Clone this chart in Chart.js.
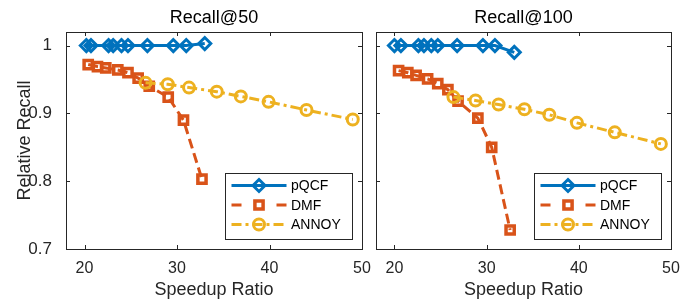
<!DOCTYPE html>
<html lang="en">
<head>
  <meta charset="UTF-8">
  <title>Relative Recall vs Speedup Ratio</title>
  <script src="https://cdn.jsdelivr.net/npm/chart.js"></script>
  <style>
    body { margin: 0; background: #fff; }
    #wrap { position: relative; width: 697px; height: 301px; }
    canvas { position: absolute; left: 0; top: 0; }
  </style>
</head>
<body>
  <div id="wrap">
    <canvas id="left" width="697" height="301"></canvas>
    <canvas id="right" width="697" height="301"></canvas>
  </div>
  <script>
    // --- data ---
    const xTicks = [20, 30, 40, 50];
    const yTicks = [0.7, 0.8, 0.9, 1];
    const seriesNames = ["pQCF", "DMF", "ANNOY"];

    // Recall@50
    const pqcfX50 = [20.2, 20.7, 22.6, 23.1, 24.0, 24.7, 26.8, 29.6, 31.0, 33.0];
    const pqcfY50 = [1, 1, 1, 1, 1, 1, 1, 1, 1, 1.003];
    const dmfX50 = [20.4, 21.4, 22.3, 23.6, 24.7, 25.8, 27.0, 29.05, 30.7, 32.7];
    const dmfY50 = [0.972, 0.969, 0.967, 0.964, 0.960, 0.952, 0.940, 0.924, 0.890, 0.803];
    const annoyX50 = [26.6, 29.0, 31.3, 34.3, 36.9, 39.9, 44.0, 49.0];
    const annoyY50 = [0.945, 0.943, 0.938, 0.932, 0.925, 0.917, 0.905, 0.891];

    // Recall@100
    const pqcfX100 = [20.0, 20.7, 22.6, 23.2, 24.0, 24.7, 26.8, 29.6, 30.9, 33.0];
    const pqcfY100 = [1, 1, 1, 1, 1, 1, 1, 1, 1, 0.99];
    const dmfX100 = [20.45, 21.45, 22.35, 23.6, 24.7, 25.8, 26.9, 29.05, 30.55, 32.55];
    const dmfY100 = [0.963, 0.960, 0.956, 0.951, 0.944, 0.935, 0.918, 0.893, 0.850, 0.728];
    const annoyX100 = [26.4, 28.8, 31.3, 34.1, 36.8, 39.8, 43.9, 48.9];
    const annoyY100 = [0.924, 0.919, 0.913, 0.906, 0.898, 0.886, 0.872, 0.855];

    const FONT = "'Liberation Sans', Arial, sans-serif";
    const AXIS = "#262626";
    const colors = ["#0072BD", "#D95319", "#EDB120"];

    const toPoints = (xs, ys) => xs.map((x, i) => ({ x: x, y: ys[i] }));

    // draws marker shapes (used for the legend)
    const drawMarker = (ctx, style, r, x, y) => {
      ctx.beginPath();
      if (style === "rectRot") {
        ctx.moveTo(x, y - r); ctx.lineTo(x + r, y); ctx.lineTo(x, y + r); ctx.lineTo(x - r, y);
        ctx.closePath();
      } else if (style === "rect") {
        const s = r * Math.SQRT1_2;
        ctx.rect(x - s, y - s, 2 * s, 2 * s);
      } else {
        ctx.arc(x, y, r, 0, Math.PI * 2);
      }
      ctx.stroke();
    };

    // box, inward ticks, title and legend in MATLAB style
    const matlabStyle = {
      id: "matlabStyle",
      beforeDatasetsDraw(chart) {
        const { ctx, chartArea: a, scales } = chart;
        ctx.save();
        ctx.strokeStyle = AXIS;
        ctx.lineWidth = 1;
        ctx.strokeRect(Math.round(a.left) + 0.5, Math.round(a.top) + 0.5,
          Math.round(a.right - a.left), Math.round(a.bottom - a.top));
        const tl = 4;
        ctx.beginPath();
        xTicks.forEach(v => {
          const px = Math.round(scales.x.getPixelForValue(v)) + 0.5;
          ctx.moveTo(px, a.bottom); ctx.lineTo(px, a.bottom - tl);
          ctx.moveTo(px, a.top); ctx.lineTo(px, a.top + tl);
        });
        yTicks.forEach(v => {
          const py = Math.round(scales.y.getPixelForValue(v)) + 0.5;
          ctx.moveTo(a.left, py); ctx.lineTo(a.left + tl, py);
          ctx.moveTo(a.right, py); ctx.lineTo(a.right - tl, py);
        });
        ctx.stroke();
        ctx.restore();
      },
      afterDraw(chart, args, opts) {
        const { ctx, chartArea: a } = chart;
        ctx.save();
        // title
        ctx.fillStyle = "#000";
        ctx.font = "18px " + FONT;
        ctx.textAlign = "center";
        ctx.textBaseline = "middle";
        ctx.fillText(opts.title, (a.left + a.right) / 2, 18);

        // legend
        const w = 127, h = 66;
        const bx = a.right - 10 - w, by = a.bottom - 10.5 - h;
        ctx.fillStyle = "#fff";
        ctx.fillRect(bx, by, w, h);
        ctx.strokeStyle = AXIS;
        ctx.lineWidth = 1;
        ctx.strokeRect(Math.round(bx) + 0.5, Math.round(by) + 0.5, w, h);
        const rows = [13, 32.5, 52];
        chart.data.datasets.forEach((ds, i) => {
          const y = by + rows[i];
          ctx.strokeStyle = ds.borderColor;
          ctx.lineWidth = ds.borderWidth;
          ctx.setLineDash(ds.legendDash || []);
          ctx.beginPath();
          ctx.moveTo(bx + 6.5, y);
          ctx.lineTo(bx + 61.5, y);
          ctx.stroke();
          ctx.setLineDash([]);
          ctx.lineWidth = ds.pointBorderWidth;
          drawMarker(ctx, ds.pointStyle, ds.pointRadius, bx + 34, y);
          ctx.fillStyle = "#000";
          ctx.font = "14px " + FONT;
          ctx.textAlign = "left";
          ctx.fillText(ds.label, bx + 66, y + 1);
        });
        ctx.restore();
      }
    };

    const makeChart = (id, title, series, isLeft) => {
      const styles = [
        { pointStyle: "rectRot", pointRadius: 6, pointBorderWidth: 3, borderDash: [], legendDash: [] },
        { pointStyle: "rect", pointRadius: 5.8, pointBorderWidth: 3.5, borderDash: [10, 5], legendDash: [10, 35] },
        { pointStyle: "circle", pointRadius: 5.5, pointBorderWidth: 3, borderDash: [10, 4, 3, 4], legendDash: [10, 4, 3, 4] }
      ];
      const datasets = series.map((pts, i) => Object.assign({
        label: seriesNames[i],
        data: pts,
        showLine: true,
        borderColor: colors[i],
        borderWidth: 3,
        pointBorderColor: colors[i],
        pointBackgroundColor: "rgba(0,0,0,0)",
        order: 3 - i
      }, styles[i]));

      return new Chart(document.getElementById(id), {
        type: "scatter",
        data: { datasets: datasets },
        options: {
          responsive: false,
          animation: false,
          devicePixelRatio: 1,
          layout: {
            padding: isLeft ? { left: 0, right: 335, top: 32, bottom: 0 }
                            : { left: 365, right: 26, top: 32, bottom: 0 }
          },
          plugins: {
            legend: { display: false },
            tooltip: { enabled: false },
            matlabStyle: { title: title }
          },
          scales: {
            x: {
              type: "linear",
              min: 18,
              max: 50,
              afterBuildTicks: axis => { axis.ticks = xTicks.map(v => ({ value: v })); },
              afterFit: scale => { scale.height = 52; scale.paddingLeft = 0; scale.paddingRight = 0; },
              grid: { display: false },
              border: { display: false },
              ticks: { color: AXIS, padding: 2, font: { family: FONT, size: 16 }, maxRotation: 0 },
              title: { display: true, text: "Speedup Ratio", color: AXIS,
                       font: { family: FONT, size: 18 }, padding: { top: 0, bottom: 0 } }
            },
            y: {
              type: "linear",
              min: 0.7,
              max: 1.02,
              afterBuildTicks: axis => { axis.ticks = yTicks.map(v => ({ value: v })); },
              afterFit: scale => { scale.width = isLeft ? 66 : 11; scale.paddingTop = 0; scale.paddingBottom = 0; },
              grid: { display: false },
              border: { display: false },
              ticks: { display: isLeft, color: AXIS, padding: 6, font: { family: FONT, size: 17 },
                       callback: v => String(v) },
              title: { display: isLeft, text: "Relative Recall", color: AXIS,
                       font: { family: FONT, size: 18 }, padding: { top: 14, bottom: 0 } }
            }
          }
        },
        plugins: [matlabStyle]
      });
    };

    makeChart("left", "Recall@50", [
      toPoints(pqcfX50, pqcfY50),
      toPoints(dmfX50, dmfY50),
      toPoints(annoyX50, annoyY50)
    ], true);

    makeChart("right", "Recall@100", [
      toPoints(pqcfX100, pqcfY100),
      toPoints(dmfX100, dmfY100),
      toPoints(annoyX100, annoyY100)
    ], false);
  </script>
</body>
</html>
